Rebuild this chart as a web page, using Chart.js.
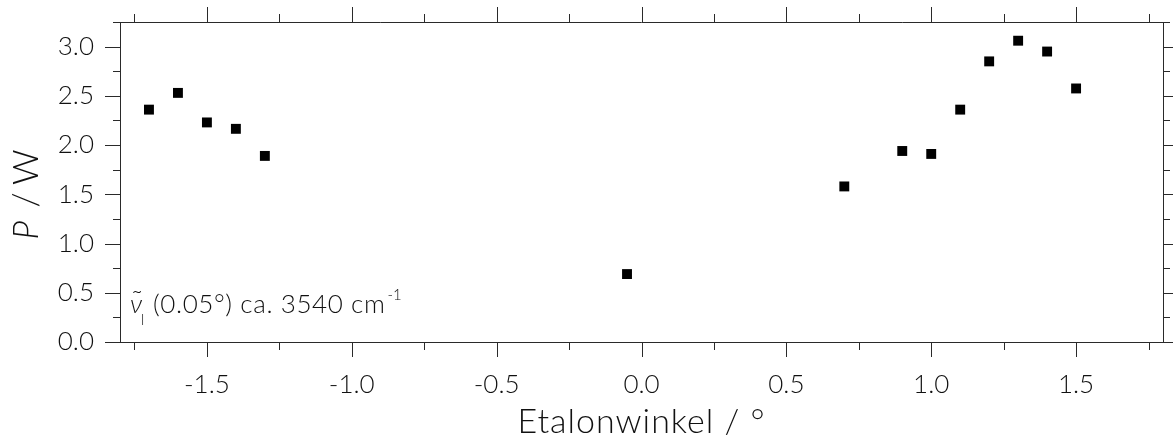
<!DOCTYPE html>
<html>
<head>
<meta charset="utf-8">
<script src="https://cdn.jsdelivr.net/npm/chart.js@4.4.1/dist/chart.umd.min.js"></script>
<style>
  html, body { margin: 0; padding: 0; background: #fff; }
  #c { display: block; }
</style>
</head>
<body>
<canvas id="c" width="1173" height="442"></canvas>
<script>
// Etalon angle (degrees) and measured output power (W)
const angles = [-1.7, -1.6, -1.5, -1.4, -1.3, -0.05, 0.7, 0.9, 1.0, 1.1, 1.2, 1.3, 1.4, 1.5];
const powers = [2.36, 2.53, 2.23, 2.165, 1.89, 0.69, 1.58, 1.94, 1.91, 2.36, 2.85, 3.06, 2.95, 2.575];

// Labelled tick positions
const xTickValues = [-1.5, -1.0, -0.5, 0.0, 0.5, 1.0, 1.5];
const yTickValues = [0.0, 0.5, 1.0, 1.5, 2.0, 2.5, 3.0];

const xRange = [-1.8, 1.8];
const yRange = [0, 3.25];

const xTitle = 'Etalonwinkel / °';

const FONT = 'Lato, "Open Sans", "DejaVu Sans", sans-serif';
const INK = '#111';
const LINE = '#2a2a2a';

// Tick marks on all four sides of the frame (major every 0.5, minor every 0.25)
const frameTicks = {
  id: 'frameTicks',
  afterDraw(chart) {
    const { ctx, chartArea: a, scales: { x, y } } = chart;
    ctx.save();
    ctx.strokeStyle = LINE;
    ctx.lineWidth = 1;
    ctx.beginPath();
    // top and right frame lines
    ctx.moveTo(a.left, a.top + 0.5); ctx.lineTo(a.right, a.top + 0.5);
    ctx.moveTo(a.right + 0.5, a.top); ctx.lineTo(a.right + 0.5, a.bottom);
    for (let i = Math.ceil(xRange[0] / 0.25); i * 0.25 <= xRange[1] + 1e-9; i++) {
      const px = Math.round(x.getPixelForValue(i * 0.25)) + 0.5;
      const len = i % 2 === 0 ? 15 : 8;
      ctx.moveTo(px, a.bottom); ctx.lineTo(px, a.bottom + len);
      ctx.moveTo(px, a.top); ctx.lineTo(px, a.top - len);
    }
    for (let i = Math.ceil(yRange[0] / 0.25); i * 0.25 <= yRange[1] + 1e-9; i++) {
      const py = Math.round(y.getPixelForValue(i * 0.25)) + 0.5;
      const len = i % 2 === 0 ? 15 : 7;
      ctx.moveTo(a.left - len, py); ctx.lineTo(a.left, py);
      ctx.moveTo(a.right, py); ctx.lineTo(a.right + len, py);
    }
    ctx.stroke();
    ctx.restore();
  }
};

// Axis titles and the wavenumber note inside the plot
const texts = {
  id: 'texts',
  afterDraw(chart) {
    const { ctx, chartArea: a } = chart;
    ctx.save();
    ctx.fillStyle = INK;
    ctx.textBaseline = 'alphabetic';

    // x-axis title
    ctx.letterSpacing = '1px';
    ctx.font = '300 34px ' + FONT;
    ctx.textAlign = 'center';
    ctx.fillText(xTitle, (a.left + a.right) / 2, a.bottom + 91);

    // "P / W" rotated, italic symbol
    ctx.letterSpacing = '0px';
    ctx.save();
    ctx.translate(38, (a.top + a.bottom) / 2 + 18);
    ctx.rotate(-Math.PI / 2);
    ctx.font = 'italic 300 35px ' + FONT;
    ctx.textAlign = 'right';
    ctx.fillText('P', -21, 0);
    ctx.font = '300 35px ' + FONT;
    ctx.textAlign = 'center';
    ctx.fillText('/', 0, 0);
    ctx.textAlign = 'left';
    ctx.fillText('W', 15, 0);
    ctx.restore();

    // note: ν̃_l (0.05°) ca. 3540 cm^-1
    const bx = a.left + 10, by = a.bottom - 29;
    ctx.textAlign = 'left';
    ctx.font = 'italic 300 26px ' + FONT;
    const wNu = ctx.measureText('ν').width;
    ctx.fillText('ν', bx, by);
    ctx.font = '300 30px ' + FONT;
    const wT = ctx.measureText('˜').width;
    ctx.fillText('˜', bx + wNu / 2 - wT / 2 + 1, by - 2);
    ctx.font = '300 15px ' + FONT;
    ctx.fillText('l', bx + 11, by + 12);
    ctx.letterSpacing = '0.6px';
    ctx.font = '300 26px ' + FONT;
    const main = '(0.05°) ca. 3540 cm';
    ctx.fillText(main, bx + 23, by);
    const wm = ctx.measureText(main).width;
    ctx.letterSpacing = '0px';
    ctx.font = '300 15px ' + FONT;
    ctx.fillText('-1', bx + 23 + wm + 2, by - 13);
    ctx.restore();
  }
};

new Chart(document.getElementById('c'), {
  type: 'scatter',
  data: {
    datasets: [{
      data: angles.map((a, i) => ({ x: a, y: powers[i] })),
      pointStyle: 'rect',
      pointRadius: 7,
      pointHoverRadius: 7,
      backgroundColor: '#000',
      borderColor: '#000',
      borderWidth: 0
    }]
  },
  options: {
    responsive: false,
    animation: false,
    devicePixelRatio: 1,
    layout: { padding: { top: 22, right: 10, left: 0, bottom: 0 } },
    plugins: { legend: { display: false }, tooltip: { enabled: false } },
    scales: {
      x: {
        type: 'linear',
        position: 'bottom',
        min: xRange[0],
        max: xRange[1],
        afterBuildTicks: s => { s.ticks = xTickValues.map(v => ({ value: v })); },
        afterFit: s => { s.height = 100; s.paddingLeft = 0; s.paddingRight = 0; },
        grid: { display: false, drawTicks: false },
        border: { display: true, color: LINE, width: 1 },
        ticks: {
          autoSkip: false,
          maxRotation: 0,
          padding: 27,
          color: INK,
          font: { family: FONT, size: 26, weight: 300 },
          callback: v => v.toFixed(1)
        }
      },
      y: {
        type: 'linear',
        position: 'left',
        min: yRange[0],
        max: yRange[1],
        afterBuildTicks: s => { s.ticks = yTickValues.map(v => ({ value: v })); },
        afterFit: s => { s.width = 120; s.paddingTop = 0; s.paddingBottom = 0; },
        grid: { display: false, drawTicks: false },
        border: { display: true, color: LINE, width: 1 },
        ticks: {
          autoSkip: false,
          padding: 26,
          color: INK,
          font: { family: FONT, size: 26, weight: 300 },
          callback: v => v.toFixed(1)
        }
      }
    }
  },
  plugins: [frameTicks, texts]
});
</script>
</body>
</html>
